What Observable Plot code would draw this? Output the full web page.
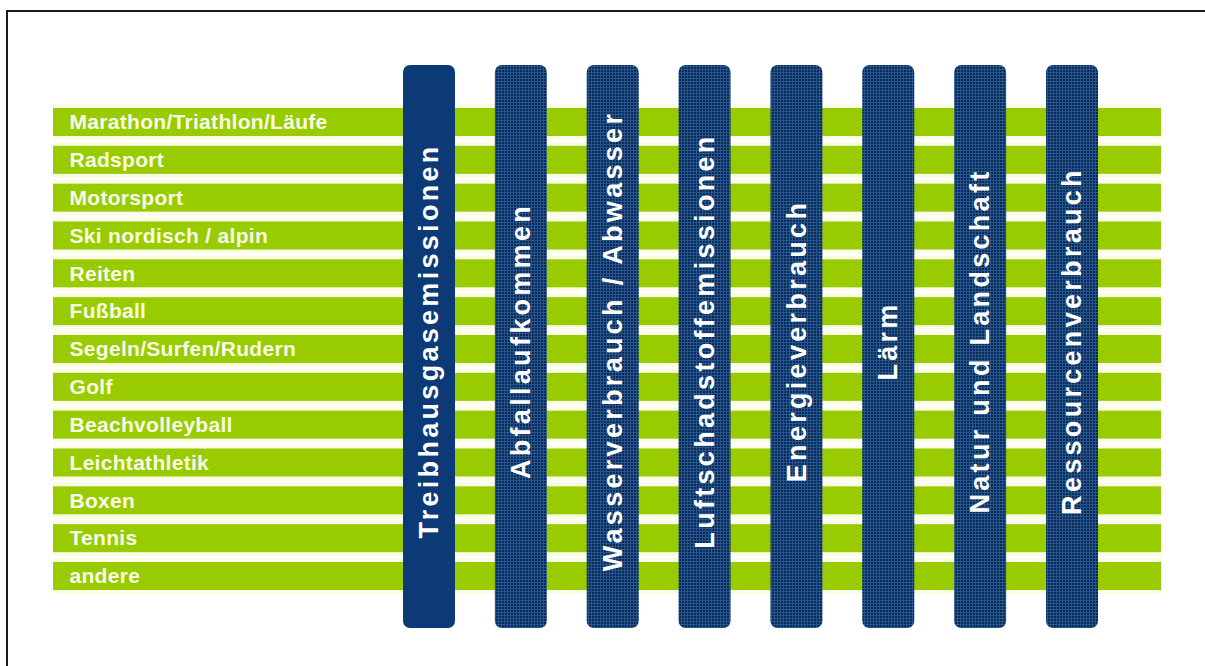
<!DOCTYPE html>
<html><head><meta charset="utf-8">
<script src="https://cdn.jsdelivr.net/npm/d3@7"></script>
<script src="https://cdn.jsdelivr.net/npm/@observablehq/plot@0.6"></script>
<style>
html,body{margin:0;padding:0;background:#fff;overflow:hidden;}
#frame{position:absolute;left:6px;top:10px;width:1300px;height:700px;border:2px solid #1a1a1a;box-sizing:border-box;}
#chart{position:absolute;left:0;top:0;}
</style></head><body>
<div id="frame"></div><div id="chart"></div>
<script>
const sports = [
  "Marathon/Triathlon/Läufe",
  "Radsport",
  "Motorsport",
  "Ski nordisch / alpin",
  "Reiten",
  "Fußball",
  "Segeln/Surfen/Rudern",
  "Golf",
  "Beachvolleyball",
  "Leichtathletik",
  "Boxen",
  "Tennis",
  "andere"
];
const impacts = [
  "Treibhausgasemissionen",
  "Abfallaufkommen",
  "Wasserverbrauch / Abwasser",
  "Luftschadstoffemissionen",
  "Energieverbrauch",
  "Lärm",
  "Natur und Landschaft",
  "Ressourcenverbrauch"
];

const chart = Plot.plot({
  width: 1205,
  height: 666,
  marginTop: 65,
  marginBottom: 38,
  marginLeft: 53,
  marginRight: 44,
  x: {type: "band", domain: impacts, range: [403, 1098], paddingInner: 0.434, paddingOuter: 0, round: false, axis: null},
  y: {type: "band", domain: sports, range: [108, 590], paddingInner: 0.26, paddingOuter: 0, round: false, axis: null},
  style: {background: "transparent", fontFamily: "'Liberation Sans', Arial, sans-serif"},
  marks: [
    Plot.cell(sports, {y: d => d, fill: "#fafce6", insetTop: -4, insetBottom: -4}),
    Plot.cell(sports, {y: d => d, fill: "#99cc00"}),
    Plot.text(sports, {y: d => d, text: d => d, frameAnchor: "left", textAnchor: "start", dx: 16,
      fill: "#f8fbe8", fontSize: 21, fontWeight: "bold"}),
    Plot.cell(impacts, {x: d => d, filter: (d, i) => i === 0, fill: "#0b3a76", rx: 7}),
    Plot.cell(impacts, {x: d => d, filter: (d, i) => i > 0, fill: "url(#grid)", rx: 7}),
    Plot.text(impacts, {x: d => d, text: d => d, rotate: -90, fill: "white", fontSize: 27,
      fontWeight: "bold", dy: -6})
  ]
});

const defs = d3.select(chart).insert("defs", ":first-child");
const pat = defs.append("pattern").attr("id", "grid").attr("patternUnits", "userSpaceOnUse")
  .attr("width", 3).attr("height", 3);
pat.append("rect").attr("width", 3).attr("height", 3).attr("fill", "#0a2b57");
pat.append("rect").attr("width", 3).attr("height", 1).attr("fill", "#27568f");
pat.append("rect").attr("width", 1).attr("height", 3).attr("fill", "#27568f");

const textGroups = chart.querySelectorAll('g[aria-label="text"]');
if (textGroups[1]) textGroups[1].setAttribute("letter-spacing", "3.3");
if (textGroups[0]) textGroups[0].setAttribute("letter-spacing", "0.3");

document.getElementById("chart").appendChild(chart);
</script>
</body></html>
